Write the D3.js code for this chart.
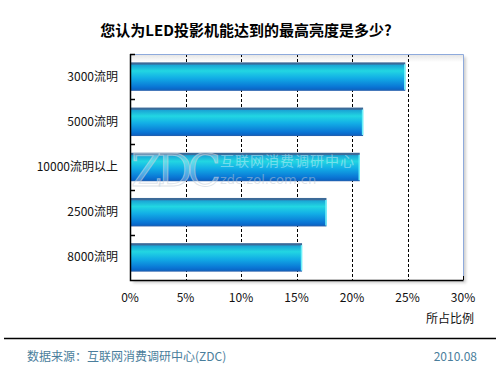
<!DOCTYPE html>
<html><head><meta charset="utf-8">
<script src="https://cdn.jsdelivr.net/npm/d3@7"></script>
<style>body{margin:0;background:#fff}svg{display:block}</style>
</head><body>
<script>
const categories = ["3000流明","5000流明","10000流明以上","2500流明","8000流明"];
const values = [24.8, 21.0, 20.7, 17.7, 15.5];
const xTicks = [0,5,10,15,20,25,30];
const title = "您认为LED投影机能达到的最高亮度是多少?";
const xLabel = "所占比例";
const source = "数据来源：互联网消费调研中心(ZDC)";
const dateText = "2010.08";

const W=500,H=375;
const font = "'Noto Sans CJK SC','Noto Sans',sans-serif";
const svg = d3.select("body").append("svg").attr("width",W).attr("height",H);
const defs = svg.append("defs");
const g1 = defs.append("linearGradient").attr("id","barG").attr("x1",0).attr("y1",0).attr("x2",0).attr("y2",1);
[[0,"#3c6a98"],[0.06,"#3c6a98"],[0.1,"#1aa6d6"],[0.3,"#22d6e2"],[0.55,"#12aee6"],[0.85,"#0a78d6"],[0.94,"#0a68c8"],[1,"#2a5ea8"]]
  .forEach(([o,c])=>g1.append("stop").attr("offset",o).attr("stop-color",c));
const g2 = defs.append("linearGradient").attr("id","topSh").attr("x1",0).attr("y1",0).attr("x2",0).attr("y2",1);
[[0,"#e2e2e2"],[1,"#ffffff"]].forEach(([o,c])=>g2.append("stop").attr("offset",o).attr("stop-color",c));
defs.append("filter").attr("id","blur").append("feGaussianBlur").attr("stdDeviation",1.5);

const L=130,R=463,T=54,B=280;
const x = d3.scaleLinear().domain([0,30]).range([L,R]);
const y = d3.scaleBand().domain(categories).range([T,B]).paddingInner(0.37).paddingOuter(0.185);

// shadow
svg.append("rect").attr("x",L+3).attr("y",T+3).attr("width",R-L).attr("height",B-T)
  .attr("fill","#cfcfcf").attr("filter","url(#blur)");
svg.append("rect").attr("x",L).attr("y",T).attr("width",R-L).attr("height",B-T).attr("fill","#fff");
svg.append("rect").attr("x",L).attr("y",T).attr("width",R-L).attr("height",8).attr("fill","url(#topSh)");

// grid
svg.append("g").selectAll("line").data(xTicks.filter(d=>d>0&&d<30)).join("line")
  .attr("x1",d=>Math.round(x(d))+0.5).attr("x2",d=>Math.round(x(d))+0.5).attr("y1",T).attr("y2",B)
  .attr("stroke","#000").attr("stroke-dasharray","3,2");

// border top/right light blue
svg.append("path").attr("d",`M${L},${T+0.5}H${R+0.5}V${B}`).attr("fill","none").attr("stroke","#8eaadc");

// bars
svg.append("g").selectAll("rect").data(values).join("rect")
  .attr("x",L).attr("y",(d,i)=>y(categories[i])).attr("width",d=>x(d)-L).attr("height",y.bandwidth())
  .attr("fill","url(#barG)");
svg.append("g").selectAll("line").data(values).join("line")
  .attr("x1",d=>x(d)-0.5).attr("x2",d=>x(d)-0.5)
  .attr("y1",(d,i)=>y(categories[i])+2).attr("y2",(d,i)=>y(categories[i])+y.bandwidth()-1)
  .attr("stroke","#6ef0f8").attr("stroke-width",1.5);

// watermark
const wm = svg.append("g").attr("pointer-events","none");
wm.append("text").attr("x",131).attr("y",186).text("ZDC")
  .attr("font-family","'DejaVu Serif',serif").attr("font-size",44).attr("textLength",90)
  .attr("fill","rgba(255,255,255,0.3)").attr("stroke","rgba(200,210,220,0.6)").attr("stroke-width",1);
wm.append("text").attr("x",220).attr("y",166).text("互联网消费调研中心")
  .attr("font-family",font).attr("font-size",14).attr("letter-spacing",1)
  .attr("fill","rgba(255,255,255,0.4)");
wm.append("text").attr("x",220).attr("y",184).text("zdc.zol.com.cn")
  .attr("font-family","'DejaVu Sans',sans-serif").attr("font-size",13)
  .attr("fill","rgba(190,200,210,0.5)");

// axes
const ax = svg.append("g");
ax.append("path").attr("d",`M${L+0.5},${T}V${B+0.5}H${R+0.5}`).attr("fill","none").attr("stroke","#000").attr("stroke-width",1.5);
const bounds = [T].concat(categories.slice(1).map(c=>y(c)-y.step()*y.paddingInner()/2));
ax.selectAll("line.yt").data(bounds).join("line").attr("class","yt")
  .attr("x1",L).attr("x2",L+5).attr("y1",d=>Math.round(d)+0.5).attr("y2",d=>Math.round(d)+0.5)
  .attr("stroke","#000").attr("stroke-width",1.5);
ax.append("line").attr("x1",R+0.5).attr("x2",R+0.5).attr("y1",B-4).attr("y2",B).attr("stroke","#000");

svg.append("g").selectAll("text").data(categories).join("text")
  .attr("x",118).attr("y",d=>y(d)+y.bandwidth()/2+4).attr("text-anchor","end")
  .attr("font-family",font).attr("font-size",12).attr("fill","#111").text(d=>d);
svg.append("g").selectAll("text").data(xTicks).join("text")
  .attr("x",d=>x(d)).attr("y",302).attr("text-anchor","middle")
  .attr("font-family",font).attr("font-size",12).attr("fill","#111").text(d=>d+"%");
svg.append("text").attr("x",474).attr("y",323).attr("text-anchor","end")
  .attr("font-family",font).attr("font-size",12).attr("fill","#111").text(xLabel);

svg.append("text").attr("x",246).attr("y",36).attr("text-anchor","middle")
  .attr("font-family",font).attr("font-size",15).attr("font-weight","bold").attr("fill","#000").text(title);

svg.append("line").attr("x1",4).attr("x2",496).attr("y1",338.5).attr("y2",338.5).attr("stroke","#000").attr("stroke-width",1.3);
svg.append("text").attr("x",27).attr("y",361).attr("font-family",font).attr("font-size",12).attr("fill","#4a7e9c").text(source);
svg.append("text").attr("x",477).attr("y",361).attr("text-anchor","end").attr("font-family",font).attr("font-size",12).attr("fill","#4a7e9c").text(dateText);
</script>
</body></html>
